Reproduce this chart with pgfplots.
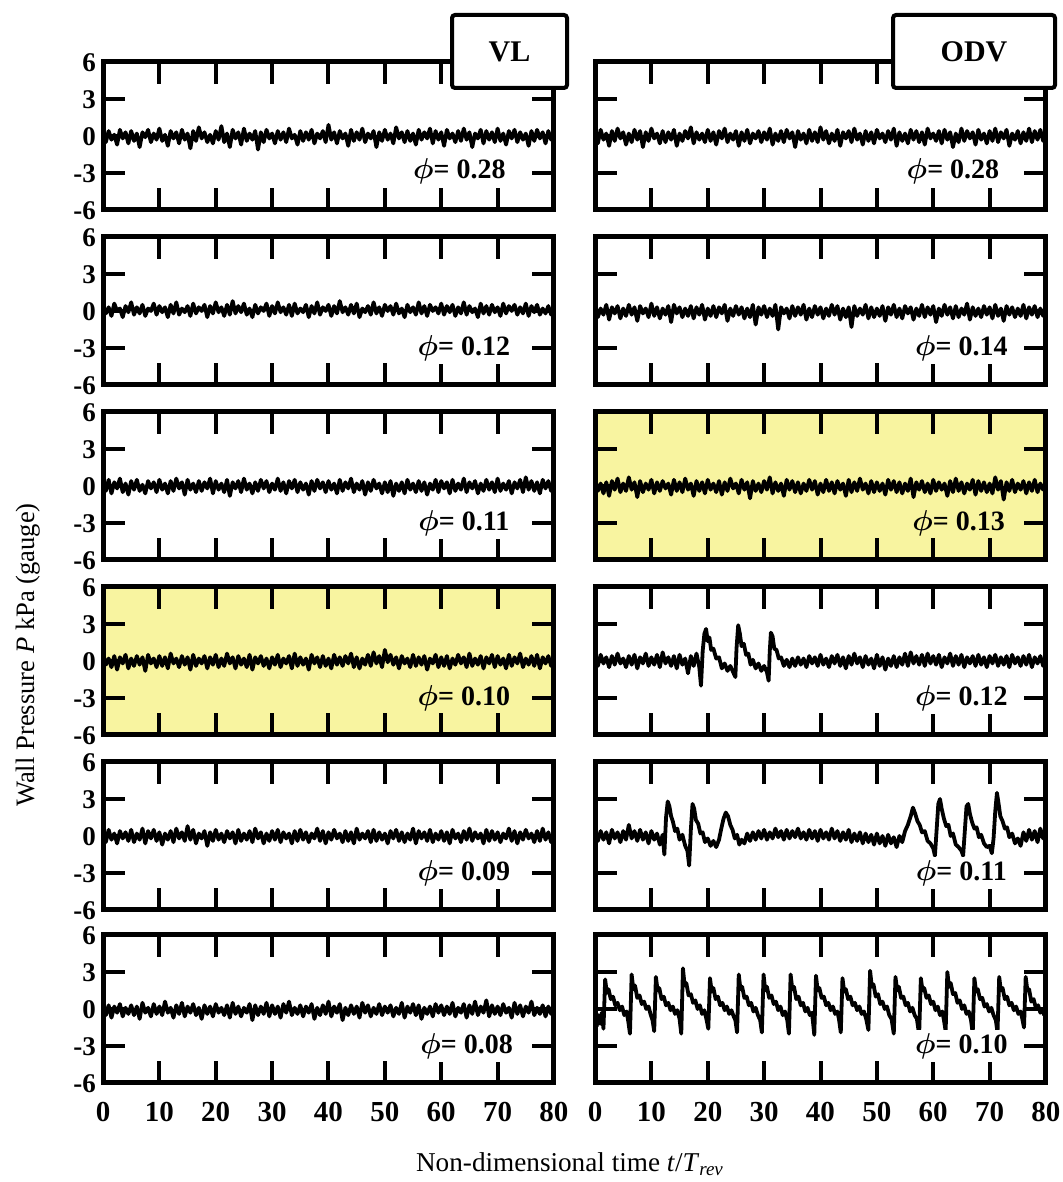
\documentclass[border=0pt]{standalone}
\usepackage{fontspec}
\setmainfont{Liberation Serif}
\usepackage{bm}
\usepackage{pgfplots}
\pgfplotsset{compat=1.18}
\definecolor{ylw}{RGB}{248,244,160}
\pgfplotsset{
 panel/.style={scale only axis, width=225.5pt, height=74pt, xmin=0, xmax=80, ymin=-6, ymax=6,
   xtick={0,10,...,80}, ytick={-6,-3,0,3,6}, tick align=inside, major tick length=11pt,
   axis line style={line width=2.5pt}, tick style={black, line width=2pt},
   tick label style={font=\bfseries\fontsize{14.5}{16}\selectfont},
   xticklabel style={yshift=-6pt},
   yticklabel style={font=\bfseries\fontsize{13.5}{15}\selectfont, text height=1.5ex, text depth=0pt, inner ysep=0pt, yshift=-1.2pt},
   /pgf/number format/assume math mode=true, anchor=south west, no markers},
 nox/.style={xticklabels={}},
 noy/.style={yticklabels={}},
 ybg/.style={axis background/.style={fill=ylw}},
 trace/.style={black, line width=1.9pt, line join=round},
 /pgfplots/table/noise/.style={/pgfplots/table/header=false, /pgfplots/table/row sep=\\, /pgfplots/table/x expr=\coordindex*0.5, /pgfplots/table/y index=0},
 /pgfplots/table/xy/.style={/pgfplots/table/header=false, /pgfplots/table/row sep=\\, /pgfplots/table/x index=0, /pgfplots/table/y index=1},
}
\tikzset{lab/.style={fill=white, inner sep=1.5pt, font=\bfseries\fontsize{14}{16}\selectfont},
 labn/.style={inner sep=1.5pt, font=\bfseries\fontsize{14}{16}\selectfont}}
\begin{document}
\begin{tikzpicture}
\useasboundingbox (0,0) rectangle (531pt,591pt);
% ---------- Row 1 ----------
\begin{axis}[panel, nox, at={(51.5pt,486pt)}]
\addplot[trace] table[noise] {0.2\\-0.5\\0.4\\-0.3\\0.1\\-0.7\\0.5\\-0.2\\0.3\\-0.6\\0.4\\-0.4\\0.2\\-0.9\\0.3\\-0.1\\0.5\\-0.5\\0.2\\-0.3\\
0.6\\-0.4\\0.1\\-0.8\\0.4\\-0.2\\0.3\\-0.6\\0.5\\-0.3\\0.2\\-1.0\\0.4\\-0.4\\0.7\\-0.2\\0.3\\-0.5\\0.1\\-0.6\\
0.4\\-0.3\\0.8\\-0.5\\0.2\\-0.9\\0.5\\-0.2\\0.3\\-0.7\\0.6\\-0.4\\0.2\\-0.3\\0.4\\-1.1\\0.3\\-0.5\\0.5\\-0.2\\
0.2\\-0.6\\0.4\\-0.3\\0.3\\-0.5\\0.6\\-0.2\\0.1\\-0.7\\0.4\\-0.4\\0.3\\-0.3\\0.5\\-0.6\\0.2\\-0.2\\0.4\\-0.5\\
0.9\\-0.3\\0.3\\-0.6\\0.4\\-0.2\\0.2\\-0.8\\0.5\\-0.4\\0.3\\-0.3\\0.6\\-0.5\\0.2\\-0.2\\0.4\\-0.9\\0.3\\-0.4\\
0.5\\-0.3\\0.2\\-0.6\\0.7\\-0.2\\0.3\\-0.5\\0.4\\-0.4\\0.2\\-0.7\\0.5\\-0.3\\0.3\\-0.2\\0.6\\-0.6\\0.4\\-0.3\\
0.3\\-0.8\\0.5\\-0.2\\0.2\\-0.5\\0.4\\-0.4\\0.6\\-0.3\\0.3\\-0.9\\0.2\\-0.2\\0.5\\-0.6\\0.4\\-0.3\\0.3\\-0.5\\
0.6\\-0.4\\0.2\\-0.7\\0.4\\-0.2\\0.5\\-0.5\\0.3\\-0.3\\0.2\\-0.8\\0.4\\-0.4\\0.5\\-0.2\\0.3\\-0.6\\0.4\\-0.3\\
0.2\\};
\node[lab] at (axis cs:63.2,-2.9) {$\bm{\phi}$= 0.28};
\end{axis}
\begin{axis}[panel, nox, noy, at={(297.5pt,486pt)}]
\addplot[trace] table[noise] {0.3\\-0.6\\0.5\\-0.3\\0.2\\-0.8\\0.4\\-0.4\\0.6\\-0.2\\0.3\\-0.7\\0.2\\-0.5\\0.5\\-0.3\\0.4\\-0.9\\0.3\\-0.4\\
0.6\\-0.2\\0.2\\-0.6\\0.4\\-0.5\\0.3\\-0.3\\0.5\\-0.8\\0.2\\-0.4\\0.4\\-0.2\\0.7\\-0.6\\0.3\\-0.3\\0.2\\-0.5\\
0.5\\-0.4\\0.3\\-0.7\\0.4\\-0.2\\0.6\\-0.5\\0.2\\-0.3\\0.4\\-0.8\\0.3\\-0.4\\0.5\\-0.6\\0.2\\-0.2\\0.4\\-0.5\\
0.3\\-0.3\\0.6\\-0.7\\0.2\\-0.4\\0.4\\-0.5\\0.5\\-0.2\\0.3\\-0.9\\0.4\\-0.3\\0.2\\-0.6\\0.5\\-0.4\\0.3\\-0.5\\
0.7\\-0.3\\0.4\\-0.6\\0.2\\-0.4\\0.5\\-0.8\\0.3\\-0.2\\0.4\\-0.5\\0.6\\-0.3\\0.2\\-0.7\\0.4\\-0.4\\0.3\\-0.6\\
0.5\\-0.2\\0.2\\-0.5\\0.4\\-0.3\\0.6\\-0.8\\0.3\\-0.4\\0.2\\-0.6\\0.5\\-0.3\\0.4\\-0.5\\0.3\\-0.7\\0.6\\-0.2\\
0.2\\-0.4\\0.4\\-0.6\\0.5\\-0.3\\0.3\\-0.9\\0.2\\-0.5\\0.6\\-0.4\\0.4\\-0.2\\0.3\\-0.7\\0.5\\-0.3\\0.2\\-0.6\\
0.4\\-0.4\\0.6\\-0.5\\0.3\\-0.2\\0.5\\-0.8\\0.2\\-0.3\\0.4\\-0.6\\0.3\\-0.4\\0.6\\-0.5\\0.4\\-0.3\\0.5\\-0.4\\
0.3\\};
\node[lab] at (axis cs:63.5,-2.9) {$\bm{\phi}$= 0.28};
\end{axis}
% ---------- Row 2 ----------
\begin{axis}[panel, nox, at={(51.5pt,398.5pt)}]
\addplot[trace] table[noise] {0.5\\-0.2\\0.3\\-0.4\\0.6\\0.0\\0.2\\-0.5\\0.4\\-0.1\\0.7\\-0.3\\0.3\\-0.2\\0.5\\-0.4\\0.2\\0.0\\0.6\\-0.3\\
0.4\\-0.1\\0.3\\-0.5\\0.5\\-0.2\\0.7\\-0.3\\0.2\\-0.1\\0.4\\-0.4\\0.6\\-0.2\\0.3\\0.0\\0.5\\-0.5\\0.4\\-0.2\\
0.7\\-0.1\\0.3\\-0.4\\0.5\\-0.3\\0.8\\-0.2\\0.4\\-0.1\\0.6\\-0.3\\0.2\\-0.5\\0.5\\-0.2\\0.3\\0.0\\0.6\\-0.4\\
0.4\\-0.2\\0.7\\-0.1\\0.3\\-0.3\\0.5\\-0.4\\0.6\\-0.2\\0.2\\-0.1\\0.5\\-0.5\\0.4\\-0.2\\0.7\\-0.3\\0.3\\0.0\\
0.5\\-0.4\\0.4\\-0.2\\0.8\\-0.1\\0.3\\-0.3\\0.5\\-0.2\\0.6\\-0.5\\0.2\\-0.1\\0.4\\-0.3\\0.7\\-0.2\\0.3\\-0.4\\
0.5\\0.0\\0.4\\-0.3\\0.6\\-0.2\\0.2\\-0.5\\0.5\\-0.1\\0.3\\-0.3\\0.7\\-0.2\\0.4\\-0.4\\0.5\\0.0\\0.3\\-0.2\\
0.6\\-0.3\\0.4\\-0.1\\0.5\\-0.4\\0.3\\-0.2\\0.7\\-0.3\\0.4\\-0.1\\0.2\\-0.5\\0.6\\-0.2\\0.4\\-0.3\\0.5\\-0.1\\
0.3\\-0.4\\0.6\\-0.2\\0.4\\0.0\\0.5\\-0.3\\0.3\\-0.2\\0.6\\-0.4\\0.4\\-0.1\\0.5\\-0.3\\0.2\\-0.2\\0.4\\-0.3\\
0.3\\};
\node[lab] at (axis cs:64,-3) {$\bm{\phi}$= 0.12};
\end{axis}
\begin{axis}[panel, nox, noy, at={(297.5pt,398.5pt)}]
\addplot[trace] table[noise] {0.4\\-0.5\\0.2\\-0.3\\0.5\\-0.7\\0.3\\-0.2\\0.4\\-0.6\\0.2\\-0.4\\0.5\\-0.3\\0.3\\-0.8\\0.4\\-0.2\\0.2\\-0.5\\
0.6\\-0.4\\0.3\\-0.6\\0.2\\-0.3\\0.4\\-0.9\\0.5\\-0.2\\0.3\\-0.5\\0.2\\-0.4\\0.4\\-0.6\\0.3\\-0.3\\0.5\\-0.7\\
0.2\\-0.4\\0.4\\-0.5\\0.3\\-0.2\\0.5\\-0.8\\0.2\\-0.4\\0.4\\-0.3\\0.3\\-0.6\\0.2\\-0.5\\0.5\\-1.1\\0.3\\-0.3\\
0.4\\-0.5\\0.2\\-0.4\\0.5\\-1.5\\0.3\\-0.2\\0.2\\-0.6\\0.4\\-0.4\\0.3\\-0.3\\0.5\\-0.7\\0.2\\-0.5\\0.4\\-0.3\\
0.3\\-0.6\\0.2\\-0.4\\0.5\\-0.3\\0.4\\-0.7\\0.2\\-0.5\\0.3\\-1.3\\0.4\\-0.4\\0.2\\-0.3\\0.5\\-0.6\\0.3\\-0.5\\
0.2\\-0.4\\0.4\\-0.8\\0.3\\-0.3\\0.5\\-0.5\\0.2\\-0.6\\0.4\\-0.2\\0.3\\-0.7\\0.2\\-0.4\\0.5\\-0.5\\0.3\\-0.3\\
0.4\\-0.9\\0.2\\-0.4\\0.5\\-0.3\\0.3\\-0.6\\0.4\\-0.5\\0.2\\-0.3\\0.6\\-0.7\\0.3\\-0.4\\0.2\\-0.5\\0.4\\-0.3\\
0.3\\-0.6\\0.5\\-0.4\\0.2\\-0.8\\0.4\\-0.3\\0.3\\-0.5\\0.2\\-0.4\\0.5\\-0.6\\0.3\\-0.3\\0.4\\-0.5\\0.2\\-0.4\\
0.3\\};
\node[lab] at (axis cs:65,-3) {$\bm{\phi}$= 0.14};
\end{axis}
% ---------- Row 3 ----------
\begin{axis}[panel, nox, at={(51.5pt,311pt)}]
\addplot[trace] table[noise] {0.8\\-0.4\\0.5\\-0.6\\0.3\\-0.2\\0.6\\-0.5\\0.2\\-0.7\\0.4\\-0.3\\0.5\\-0.4\\0.1\\-0.6\\0.4\\-0.2\\0.3\\-0.5\\
0.5\\-0.3\\0.2\\-0.6\\0.4\\-0.4\\0.6\\-0.2\\0.3\\-0.7\\0.5\\-0.3\\0.2\\-0.5\\0.4\\-0.4\\0.3\\-0.2\\0.6\\-0.6\\
0.4\\-0.3\\0.2\\-0.5\\0.5\\-0.8\\0.3\\-0.2\\0.4\\-0.5\\0.6\\-0.3\\0.2\\-0.6\\0.3\\-0.4\\0.5\\-0.2\\0.4\\-0.5\\
0.2\\-0.3\\0.6\\-0.4\\0.3\\-0.6\\0.4\\-0.2\\0.5\\-0.5\\0.3\\-0.3\\0.2\\-0.7\\0.4\\-0.4\\0.5\\-0.2\\0.3\\-0.5\\
0.4\\-0.3\\0.2\\-0.6\\0.5\\-0.4\\0.3\\-0.2\\0.6\\-0.5\\0.2\\-0.3\\0.4\\-0.7\\0.3\\-0.4\\0.5\\-0.2\\0.2\\-0.6\\
0.3\\-0.5\\0.4\\-0.8\\0.2\\-0.4\\0.3\\-0.6\\0.5\\-0.3\\0.2\\-0.5\\0.4\\-0.4\\0.3\\-0.7\\0.2\\-0.3\\0.5\\-0.5\\
0.4\\-0.2\\0.3\\-0.6\\0.5\\-0.4\\0.2\\-0.3\\0.6\\-0.5\\0.3\\-0.2\\0.4\\-0.6\\0.2\\-0.4\\0.5\\-0.3\\0.3\\-0.5\\
0.6\\-0.4\\0.2\\-0.3\\0.4\\-0.6\\0.3\\-0.2\\0.5\\-0.5\\0.7\\-0.3\\0.4\\-0.4\\0.3\\-0.6\\0.5\\-0.2\\0.4\\-0.4\\
0.3\\};
\node[lab] at (axis cs:64,-3) {$\bm{\phi}$= 0.11};
\end{axis}
\begin{axis}[panel, nox, noy, ybg, at={(297.5pt,311pt)}]
\addplot[trace] table[noise] {0.5\\-0.4\\0.2\\-0.6\\0.3\\-0.8\\0.4\\-0.3\\0.6\\-0.5\\0.2\\-0.4\\0.7\\-0.3\\0.3\\-0.9\\0.4\\-0.5\\0.2\\-0.3\\
0.5\\-0.6\\0.3\\-0.4\\0.4\\-0.2\\0.2\\-0.7\\0.5\\-0.4\\0.3\\-0.5\\0.6\\-0.3\\0.2\\-0.8\\0.4\\-0.4\\0.3\\-0.6\\
0.5\\-0.3\\0.2\\-0.5\\0.4\\-0.7\\0.3\\-0.4\\0.6\\-0.2\\0.2\\-0.6\\0.5\\-0.3\\0.3\\-1.0\\0.4\\-0.4\\0.2\\-0.5\\
0.4\\-0.3\\0.7\\-0.6\\0.3\\-0.4\\0.2\\-0.8\\0.5\\-0.3\\0.4\\-0.5\\0.3\\-0.6\\0.2\\-0.4\\0.5\\-0.3\\0.4\\-0.7\\
0.2\\-0.5\\0.5\\-0.4\\0.3\\-0.6\\0.4\\-0.3\\0.2\\-0.8\\0.5\\-0.5\\0.3\\-0.4\\0.6\\-0.3\\0.2\\-0.6\\0.4\\-0.5\\
0.3\\-0.4\\0.2\\-0.7\\0.5\\-0.3\\0.4\\-0.5\\0.3\\-0.6\\0.2\\-0.4\\0.6\\-0.9\\0.3\\-0.3\\0.4\\-0.5\\0.2\\-0.6\\
0.5\\-0.4\\0.3\\-0.3\\0.2\\-0.8\\0.4\\-0.5\\0.6\\-0.4\\0.3\\-0.6\\0.2\\-0.3\\0.5\\-0.7\\0.4\\-0.4\\0.3\\-0.5\\
0.2\\-0.6\\0.7\\-0.3\\0.4\\-1.1\\0.3\\-0.4\\0.5\\-0.5\\0.2\\-0.3\\0.4\\-0.6\\0.3\\-0.4\\0.5\\-0.5\\0.2\\-0.3\\
0.4\\};
\node[labn] at (axis cs:64.5,-3) {$\bm{\phi}$= 0.13};
\end{axis}
% ---------- Row 4 ----------
\begin{axis}[panel, nox, ybg, at={(51.5pt,223.5pt)}]
\addplot[trace] table[noise] {0.6\\-0.3\\0.2\\-0.5\\0.4\\-0.7\\0.3\\-0.2\\0.5\\-0.6\\0.2\\-0.4\\0.4\\-0.3\\0.3\\-0.8\\0.5\\-0.2\\0.2\\-0.5\\
0.4\\-0.4\\0.3\\-0.6\\0.6\\-0.2\\0.2\\-0.5\\0.4\\-0.3\\0.3\\-0.7\\0.5\\-0.4\\0.2\\-0.2\\0.4\\-0.6\\0.3\\-0.3\\
0.5\\-0.5\\0.2\\-0.4\\0.6\\-0.2\\0.3\\-0.6\\0.4\\-0.3\\0.2\\-0.5\\0.5\\-0.7\\0.3\\-0.2\\0.4\\-0.4\\0.2\\-0.6\\
0.3\\-0.3\\0.5\\-0.5\\0.2\\-0.2\\0.4\\-0.6\\0.6\\-0.4\\0.3\\-0.3\\0.2\\-0.7\\0.5\\-0.2\\0.3\\-0.5\\0.4\\-0.4\\
0.2\\-0.6\\0.5\\-0.3\\0.3\\-0.4\\0.4\\-0.2\\0.6\\-0.5\\0.3\\-0.6\\0.2\\-0.3\\0.5\\-0.4\\0.7\\-0.2\\0.4\\-0.5\\
0.9\\-0.1\\0.5\\-0.3\\0.3\\-0.6\\0.4\\-0.2\\0.2\\-0.5\\0.5\\-0.4\\0.3\\-0.3\\0.4\\-0.7\\0.2\\-0.2\\0.5\\-0.5\\
0.3\\-0.4\\0.4\\-0.6\\0.2\\-0.3\\0.5\\-0.2\\0.3\\-0.5\\0.6\\-0.4\\0.2\\-0.3\\0.4\\-0.6\\0.3\\-0.2\\0.5\\-0.5\\
0.4\\-0.3\\0.2\\-0.6\\0.5\\-0.4\\0.3\\-0.2\\0.6\\-0.5\\0.2\\-0.3\\0.4\\-0.4\\0.5\\-0.6\\0.3\\-0.2\\0.4\\-0.4\\
0.2\\};
\node[labn] at (axis cs:64,-3) {$\bm{\phi}$= 0.10};
\end{axis}
\begin{axis}[panel, nox, noy, at={(297.5pt,223.5pt)}]
\addplot[trace] table[xy] {0 0.3\\0.5 -0.4\\1 0.5\\1.5 -0.2\\2 0.3\\2.5 -0.5\\3 0.4\\3.5 -0.3\\4 0.6\\4.5 -0.2\\5 0.2\\5.5 -0.5\\6 0.4\\6.5 -0.3\\7 0.5\\7.5 -0.6\\8 0.3\\8.5 -0.2\\9 0.6\\9.5 -0.4\\
10 0.3\\10.5 -0.3\\11 0.5\\11.5 -0.5\\12 0.7\\12.5 -0.2\\13 0.3\\13.5 -0.4\\14 0.4\\14.5 -0.6\\15 0.5\\15.5 -0.3\\16 0.2\\16.5 -1.0\\17 0.4\\17.5 -0.4\\18 0.6\\18.5 -0.5\\18.8 -2.0\\19.1 0.8\\
19.4 2.2\\19.7 2.6\\20.0 1.6\\20.3 1.9\\20.6 0.9\\21 1.0\\21.5 0.2\\22 0.3\\22.5 -0.6\\23 -0.2\\23.5 -0.8\\24 -0.4\\24.5 -0.9\\24.9 -1.3\\25.1 1.0\\25.4 2.9\\25.7 2.2\\26 1.2\\26.4 1.4\\26.8 0.5\\
27.2 0.6\\27.6 -0.3\\28 0.1\\28.5 -0.6\\29 -0.2\\29.5 -0.8\\30 -0.4\\30.5 -0.9\\30.8 -1.6\\31.0 0.8\\31.2 2.3\\31.5 2.0\\31.8 1.0\\32.2 0.9\\32.6 0.2\\33 0.3\\33.5 -0.4\\34 0.1\\34.5 -0.5\\35 0.2\\
35.5 -0.4\\36 0.3\\36.5 -0.3\\37 0.2\\37.5 -0.5\\38 0.4\\38.5 -0.2\\39 0.3\\39.5 -0.4\\40 0.5\\40.5 -0.3\\41 0.2\\41.5 -0.5\\42 0.4\\42.5 -0.2\\43 0.5\\43.5 -0.4\\44 0.3\\44.5 -0.6\\45 0.4\\
45.5 -0.3\\46 0.6\\46.5 -0.2\\47 0.3\\47.5 -0.5\\48 0.4\\48.5 -0.3\\49 0.2\\49.5 -0.6\\50 0.5\\50.5 -0.4\\51 0.3\\51.5 -0.7\\52 0.2\\52.5 -0.4\\53 0.4\\53.5 -0.5\\54 0.3\\54.5 -0.3\\55 0.6\\
55.5 -0.4\\56 0.7\\56.5 -0.2\\57 0.4\\57.5 -0.3\\58 0.5\\58.5 -0.4\\59 0.6\\59.5 -0.2\\60 0.4\\60.5 -0.3\\61 0.5\\61.5 -0.5\\62 0.3\\62.5 -0.2\\63 0.6\\63.5 -0.4\\64 0.4\\64.5 -0.3\\65 0.5\\
65.5 -0.5\\66 0.3\\66.5 -0.2\\67 0.4\\67.5 -0.4\\68 0.5\\68.5 -0.3\\69 0.3\\69.5 -0.5\\70 0.4\\70.5 -0.2\\71 0.5\\71.5 -0.4\\72 0.3\\72.5 -0.3\\73 0.4\\73.5 -0.5\\74 0.5\\74.5 -0.2\\75 0.3\\
75.5 -0.4\\76 0.4\\76.5 -0.3\\77 0.5\\77.5 -0.5\\78 0.3\\78.5 -0.2\\79 0.4\\79.5 -0.4\\80 0.2\\};
\node[lab] at (axis cs:65,-3) {$\bm{\phi}$= 0.12};
\end{axis}
% ---------- Row 5 ----------
\begin{axis}[panel, nox, at={(51.5pt,136pt)}]
\addplot[trace] table[noise] {0.3\\-0.5\\0.5\\-0.3\\0.2\\-0.6\\0.4\\-0.2\\0.3\\-0.4\\0.5\\-0.5\\0.2\\-0.3\\0.6\\-0.6\\0.4\\-0.2\\0.5\\-0.4\\
0.3\\-0.7\\0.2\\-0.3\\0.4\\-0.5\\0.6\\-0.2\\0.3\\-0.4\\0.8\\-0.3\\0.5\\-0.6\\0.2\\-0.2\\0.4\\-0.8\\0.3\\-0.4\\
0.5\\-0.3\\0.2\\-0.5\\0.4\\-0.2\\0.3\\-0.6\\0.5\\-0.4\\0.2\\-0.3\\0.4\\-0.5\\0.6\\-0.2\\0.3\\-0.6\\0.2\\-0.4\\
0.4\\-0.3\\0.5\\-0.5\\0.3\\-0.2\\0.2\\-0.6\\0.4\\-0.4\\0.5\\-0.3\\0.3\\-0.5\\0.2\\-0.2\\0.6\\-0.4\\0.4\\-0.6\\
0.3\\-0.3\\0.5\\-0.2\\0.2\\-0.5\\0.4\\-0.4\\0.3\\-0.6\\0.6\\-0.3\\0.2\\-0.2\\0.4\\-0.5\\0.5\\-0.4\\0.3\\-0.3\\
0.2\\-0.6\\0.4\\-0.2\\0.5\\-0.4\\0.3\\-0.5\\0.2\\-0.3\\0.6\\-0.6\\0.4\\-0.2\\0.3\\-0.4\\0.5\\-0.5\\0.2\\-0.3\\
0.4\\-0.4\\0.3\\-0.6\\0.5\\-0.2\\0.2\\-0.5\\0.4\\-0.3\\0.6\\-0.4\\0.3\\-0.2\\0.2\\-0.6\\0.5\\-0.4\\0.4\\-0.3\\
0.3\\-0.5\\0.2\\-0.2\\0.6\\-0.4\\0.4\\-0.6\\0.3\\-0.3\\0.5\\-0.2\\0.2\\-0.5\\0.4\\-0.4\\0.6\\-0.3\\0.3\\-0.5\\
0.2\\};
\node[lab] at (axis cs:64,-3) {$\bm{\phi}$= 0.09};
\end{axis}
\begin{axis}[panel, nox, noy, at={(297.5pt,136pt)}]
\addplot[trace] table[xy] {0 0.2\\0.5 -0.4\\1 0.4\\1.5 -0.3\\2 0.3\\2.5 -0.6\\3 0.5\\3.5 -0.2\\4 0.3\\4.5 -0.5\\5 0.4\\5.5 -0.3\\6 0.9\\6.5 -0.2\\7 0.4\\7.5 -0.4\\8 0.5\\8.5 -0.3\\9 0.3\\9.5 -0.6\\
10 0.4\\10.5 -0.3\\11 0.2\\11.5 -0.7\\12 0.1\\12.3 -1.5\\12.6 1.5\\12.9 2.8\\13.2 2.4\\13.5 1.6\\13.8 1.2\\14.2 0.4\\14.6 0.6\\15 -0.3\\15.5 0.1\\16 -0.8\\16.4 -1.2\\16.7 -2.4\\17.0 0.5\\17.3 2.6\\
17.6 2.2\\17.9 1.3\\18.3 1.0\\18.7 0.2\\19.1 0.3\\19.5 -0.5\\20 -0.2\\20.5 -0.8\\21 -0.4\\21.5 -0.9\\22 -0.3\\22.4 0.6\\22.8 1.4\\23.2 1.9\\23.6 1.6\\24 0.9\\24.4 0.5\\24.8 -0.2\\25.2 0.1\\25.6 -0.7\\
26 -0.3\\26.5 -0.6\\27 0.2\\27.5 -0.4\\28 0.3\\28.5 -0.3\\29 0.4\\29.5 -0.2\\30 0.5\\30.5 -0.3\\31 0.3\\31.5 -0.2\\32 0.6\\32.5 -0.1\\33 0.4\\33.5 -0.3\\34 0.5\\34.5 -0.2\\35 0.4\\35.5 -0.1\\
36 0.6\\36.5 -0.2\\37 0.3\\37.5 -0.3\\38 0.5\\38.5 -0.2\\39 0.4\\39.5 -0.4\\40 0.5\\40.5 -0.2\\41 0.3\\41.5 -0.3\\42 0.6\\42.5 -0.2\\43 0.4\\43.5 -0.4\\44 0.3\\44.5 -0.3\\45 0.5\\45.5 -0.5\\
46 0.2\\46.5 -0.4\\47 0.3\\47.5 -0.6\\48 0.2\\48.5 -0.5\\49 0.1\\49.5 -0.7\\50 0.2\\50.5 -0.6\\51 0.0\\51.5 -0.8\\52 0.1\\52.5 -0.6\\53 -0.1\\53.5 -0.9\\54 0.0\\54.5 -0.5\\55 0.4\\55.5 0.9\\
56 1.6\\56.4 2.3\\56.8 1.8\\57.2 1.2\\57.6 0.9\\58 0.3\\58.5 0.4\\59 -0.4\\59.5 -0.6\\60 -1.0\\60.3 -1.6\\60.6 0.5\\60.9 2.6\\61.2 3.0\\61.5 2.2\\61.9 1.4\\62.3 0.8\\62.7 0.9\\63.1 0.0\\63.5 0.2\\
64 -0.7\\64.5 -0.9\\65 -1.2\\65.3 -1.6\\65.6 0.4\\65.9 2.4\\66.2 2.6\\66.5 1.8\\66.9 1.1\\67.3 0.6\\67.7 0.7\\68.1 -0.1\\68.5 0.1\\69 -0.6\\69.5 -0.9\\70 -0.8\\70.4 -1.4\\70.7 -0.2\\71.0 2.0\\71.3 3.5\\
71.6 2.6\\71.9 1.6\\72.3 1.2\\72.7 0.6\\73.1 0.7\\73.5 -0.1\\74 0.2\\74.5 -0.6\\75 -0.2\\75.5 -0.8\\76 0.3\\76.5 -0.4\\77 0.5\\77.5 -0.3\\78 0.4\\78.5 -0.5\\79 0.6\\79.5 -0.2\\80 0.3\\};
\node[lab] at (axis cs:65,-3) {$\bm{\phi}$= 0.11};
\end{axis}
% ---------- Row 6 ----------
\begin{axis}[panel, at={(51.5pt,49.5pt)}]
\addplot[trace] table[noise] {0.6\\-0.5\\0.3\\-0.7\\0.2\\-0.3\\0.4\\-0.6\\0.1\\-0.4\\0.3\\-0.5\\0.2\\-0.8\\0.5\\-0.3\\0.1\\-0.6\\0.4\\-0.4\\
0.2\\-0.5\\0.6\\-0.3\\0.1\\-0.7\\0.3\\-0.4\\0.5\\-0.6\\0.2\\-0.3\\0.4\\-0.5\\0.1\\-0.8\\0.3\\-0.4\\0.2\\-0.6\\
0.4\\-0.3\\0.1\\-0.5\\0.3\\-0.7\\0.5\\-0.4\\0.2\\-0.6\\0.1\\-0.3\\0.4\\-0.9\\0.3\\-0.5\\0.2\\-0.4\\0.5\\-0.6\\
0.3\\-0.4\\0.2\\-0.7\\0.4\\-0.3\\0.6\\-0.5\\0.1\\-0.4\\0.3\\-0.6\\0.2\\-0.3\\0.4\\-0.8\\0.1\\-0.5\\0.3\\-0.4\\
0.6\\-0.6\\0.2\\-0.3\\0.4\\-0.9\\0.1\\-0.5\\0.3\\-0.4\\0.2\\-0.7\\0.5\\-0.3\\0.3\\-0.6\\0.1\\-0.4\\0.4\\-0.5\\
0.2\\-0.3\\0.3\\-0.6\\0.1\\-0.4\\0.5\\-0.7\\0.2\\-0.3\\0.4\\-0.5\\0.3\\-0.8\\0.1\\-0.4\\0.2\\-0.6\\0.4\\-0.3\\
0.3\\-0.5\\0.2\\-0.4\\0.5\\-0.6\\0.1\\-0.3\\0.4\\-0.7\\0.3\\-0.4\\0.6\\-0.5\\0.2\\-0.3\\0.7\\-0.6\\0.3\\-0.4\\
0.2\\-0.5\\0.4\\-0.3\\0.1\\-0.7\\0.5\\-0.4\\0.3\\-0.6\\0.2\\-0.3\\0.6\\-0.5\\0.1\\-0.4\\0.3\\-0.6\\0.2\\-0.4\\
0.1\\};
\node[lab] at (axis cs:64.5,-3) {$\bm{\phi}$= 0.08};
\end{axis}
\begin{axis}[panel, noy, at={(297.5pt,49.5pt)}]
\addplot[trace] table[xy] {0 -0.6\\0.3 -1.4\\0.6 -0.5\\0.9 -1.2\\1.2 -0.3\\1.5 -1.6\\1.8 2.4\\2.1 1.3\\2.4 1.6\\2.8 0.8\\3.2 1.0\\3.6 0.3\\4.0 0.5\\4.4 -0.1\\4.8 0.2\\5.2 -0.5\\5.6 -0.2\\5.9 -1.0\\6.2 -2.0\\
6.5 2.8\\6.8 1.6\\7.1 1.9\\7.5 0.9\\7.9 1.1\\8.3 0.4\\8.7 0.6\\9.1 0.0\\9.5 0.2\\9.9 -0.5\\10.2 -0.9\\10.5 -1.8\\
10.8 2.6\\11.1 1.5\\11.4 1.7\\11.8 0.8\\12.2 1.0\\12.6 0.3\\13.0 0.5\\13.4 -0.1\\13.8 0.2\\14.2 -0.4\\14.6 -0.1\\15.0 -0.8\\15.3 -2.0\\
15.6 3.3\\15.9 1.9\\16.2 2.1\\16.6 1.1\\17.0 1.2\\17.4 0.5\\17.8 0.7\\18.2 0.0\\18.6 0.3\\19.0 -0.4\\19.4 -0.1\\19.8 -0.9\\20.1 -1.6\\
20.4 2.5\\20.7 1.4\\21.0 1.7\\21.4 0.8\\21.8 1.0\\22.2 0.3\\22.6 0.5\\23.0 -0.1\\23.4 0.2\\23.8 -0.4\\24.2 -0.1\\24.6 -0.6\\24.9 -0.9\\25.2 -1.9\\
25.5 2.8\\25.8 1.6\\26.1 1.8\\26.5 0.9\\26.9 1.0\\27.3 0.3\\27.7 0.5\\28.1 -0.2\\28.5 0.1\\28.9 -0.5\\29.3 -0.9\\29.6 -1.9\\
29.9 2.8\\30.2 1.5\\30.5 1.8\\30.9 0.9\\31.3 1.1\\31.7 0.4\\32.1 0.6\\32.5 -0.1\\32.9 0.2\\33.3 -0.5\\33.7 -0.2\\34.1 -0.9\\34.4 -2.0\\
34.7 2.8\\35.0 1.6\\35.3 1.8\\35.7 0.8\\36.1 1.0\\36.5 0.3\\36.9 0.5\\37.3 -0.2\\37.7 0.1\\38.1 -0.5\\38.5 -0.3\\38.9 -2.1\\
39.2 2.7\\39.5 1.5\\39.8 1.7\\40.2 0.9\\40.6 1.0\\41.0 0.3\\41.4 0.5\\41.8 -0.1\\42.2 0.2\\42.6 -0.4\\43.0 -0.2\\43.3 -0.9\\43.6 -1.9\\
43.9 2.5\\44.2 1.4\\44.5 1.6\\44.9 0.8\\45.3 1.0\\45.7 0.3\\46.1 0.5\\46.5 -0.1\\46.9 0.2\\47.3 -0.4\\47.7 -0.2\\48.1 -0.8\\48.5 -1.7\\
48.8 3.1\\49.1 1.8\\49.4 2.0\\49.8 1.0\\50.2 1.2\\50.6 0.4\\51.0 0.6\\51.4 0.0\\51.8 0.2\\52.2 -0.5\\52.6 -0.8\\53.0 -2.0\\
53.3 2.6\\53.6 1.5\\53.9 1.8\\54.3 0.9\\54.7 1.0\\55.1 0.3\\55.5 0.5\\55.9 -0.2\\56.3 0.1\\56.7 -0.5\\57.1 -0.8\\57.5 -2.1\\
57.8 2.5\\58.1 1.5\\58.4 1.7\\58.8 0.9\\59.2 1.1\\59.6 0.4\\60.0 0.6\\60.4 -0.1\\60.8 0.2\\61.2 -0.5\\61.6 -0.2\\61.9 -0.9\\62.2 -1.8\\
62.5 3.0\\62.8 1.8\\63.1 2.1\\63.5 1.2\\63.9 1.3\\64.3 0.5\\64.7 0.7\\65.1 0.0\\65.5 0.3\\65.9 -0.4\\66.3 -0.2\\66.7 -0.9\\67.0 -2.0\\
67.3 2.5\\67.6 1.4\\67.9 1.6\\68.3 0.8\\68.7 0.9\\69.1 0.2\\69.5 0.4\\69.9 -0.2\\70.3 0.1\\70.7 -0.5\\71.1 -0.9\\71.4 -1.9\\
71.7 2.6\\72.0 1.5\\72.3 1.7\\72.7 0.8\\73.1 1.0\\73.5 0.3\\73.9 0.5\\74.3 -0.1\\74.7 0.2\\75.1 -0.4\\75.5 -0.2\\75.8 -0.8\\76.1 -1.5\\
76.4 2.6\\76.7 1.5\\77.0 1.6\\77.4 0.6\\77.8 0.8\\78.2 0.1\\78.6 0.3\\79.0 -0.3\\79.4 -0.1\\79.7 -0.5\\80 -0.2\\};
\node[lab] at (axis cs:65,-3) {$\bm{\phi}$= 0.10};
\end{axis}
% ---------- boxes and axis titles ----------
\node[draw, line width=2pt, rounded corners=1.5pt, fill=white, minimum width=57.5pt, minimum height=36.5pt, font=\bfseries\fontsize{15}{17}\selectfont] at (254.75pt,565.25pt) {VL};
\node[draw, line width=2pt, rounded corners=1.5pt, fill=white, minimum width=81pt, minimum height=36.5pt, font=\bfseries\fontsize{15}{17}\selectfont] at (487pt,565.25pt) {ODV};
\node[rotate=90, font=\fontsize{13.3}{15}\selectfont] at (14pt,263.5pt) {Wall Pressure \textit{P} kPa (gauge)};
\node[font=\fontsize{13.6}{15}\selectfont] at (285pt,9pt) {Non-dimensional time \textit{t}/\textit{T}\textsubscript{\textit{rev}}};
\end{tikzpicture}
\end{document}
